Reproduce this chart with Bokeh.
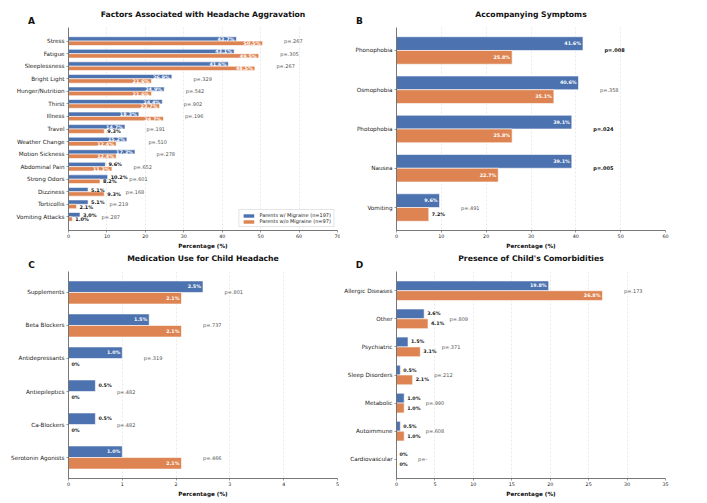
from bokeh.plotting import figure
from bokeh.layouts import column, row
from bokeh.models import ColumnDataSource, Range1d, FixedTicker, Label
from bokeh.embed import file_html
from bokeh.resources import INLINE
from bokeh.core.properties import value

BLUE = "#4C72B0"
ORANGE = "#DD8452"
FONT = "DejaVu Sans"

# Panel A: factors associated with headache aggravation
aggr_factors = ["Stress", "Fatigue", "Sleeplessness", "Bright Light", "Hunger/Nutrition",
                "Thirst", "Illness", "Travel", "Weather Change", "Motion Sickness",
                "Abdominal Pain", "Strong Odors", "Dizziness", "Torticollis", "Vomiting Attacks"]
aggr_mig = [43.7, 43.1, 41.6, 26.9, 24.9, 24.4, 18.3, 14.7, 15.2, 17.3, 9.6, 10.2, 5.1, 5.1, 3.0]
aggr_nomig = [50.5, 49.5, 48.5, 21.6, 21.6, 23.7, 24.7, 9.3, 12.4, 12.4, 11.3, 8.2, 9.3, 2.1, 1.0]
aggr_p = [".267", ".305", ".267", ".329", ".542", ".902", ".196", ".191", ".510", ".278",
          ".652", ".601", ".168", ".219", ".287"]

# Panel B: accompanying symptoms
symp_names = ["Phonophobia", "Osmophobia", "Photophobia", "Nausea", "Vomiting"]
symp_mig = [41.6, 40.6, 39.1, 39.1, 9.6]
symp_nomig = [25.8, 35.1, 25.8, 22.7, 7.2]
symp_p = [".008", ".358", ".024", ".005", ".491"]

# Panel C: medication use
med_names = ["Supplements", "Beta Blockers", "Antidepressants", "Antiepileptics",
             "Ca-Blockers", "Serotonin Agonists"]
med_mig = [2.5, 1.5, 1.0, 0.5, 0.5, 1.0]
med_nomig = [2.1, 2.1, 0.0, 0.0, 0.0, 2.1]
med_p = [".801", ".737", ".319", ".482", ".482", ".466"]

# Panel D: comorbidities
comor_names = ["Allergic Diseases", "Other", "Psychiatric", "Sleep Disorders", "Metabolic",
               "Autoimmune", "Cardiovascular"]
comor_mig = [19.8, 3.6, 1.5, 0.5, 1.0, 0.5, 0.0]
comor_nomig = [26.8, 4.1, 3.1, 2.1, 1.0, 1.0, 0.0]
comor_p = [".173", ".809", ".371", ".212", ".990", ".608", "-"]

LEG_MIG = "Parents w/ Migraine (n=197)"
LEG_NOMIG = "Parents w/o Migraine (n=97)"


def fmt_pct(v):
    return "0%" if v == 0 else f"{v:.1f}%"


def make_panel(letter, title, cats, mig, nomig, pvals, xmax, xstep,
               width, height, bl, br, bt, bb, legend=False):
    n = len(cats)
    bar_h = 0.35
    pad = 0.05 * ((n - 1) + 2 * bar_h)
    y_top = -bar_h - pad
    y_bot = n - 1 + bar_h + pad
    p = figure(width=width, height=height, output_backend="svg", toolbar_location=None,
               title=None, x_range=Range1d(0, xmax), y_range=Range1d(y_bot, y_top),
               min_border_left=bl, min_border_right=br,
               min_border_top=bt, min_border_bottom=bb)
    p.outline_line_color = None

    idx = list(range(n))
    src_a = ColumnDataSource(dict(y=[i - bar_h / 2 for i in idx], v=mig))
    src_b = ColumnDataSource(dict(y=[i + bar_h / 2 for i in idx], v=nomig))
    kw_a = dict(legend_label=LEG_MIG) if legend else {}
    kw_b = dict(legend_label=LEG_NOMIG) if legend else {}
    p.hbar(y="y", right="v", left=0, height=bar_h, source=src_a,
           fill_color=BLUE, line_color="white", line_width=0.6, **kw_a)
    p.hbar(y="y", right="v", left=0, height=bar_h, source=src_b,
           fill_color=ORANGE, line_color="white", line_width=0.6, **kw_b)

    # value labels: inside long bars, outside short ones
    thr = 0.15 * xmax
    ins = dict(x=[], y=[], t=[])
    outs = dict(x=[], y=[], t=[])
    for vals, off in ((mig, -bar_h / 2), (nomig, bar_h / 2)):
        for i, v in enumerate(vals):
            d = ins if v > thr else outs
            d["x"].append(v)
            d["y"].append(i + off)
            d["t"].append(fmt_pct(v))
    lab_size = "4.9px" if n > 10 else "4.8px"
    p.text(x="x", y="y", text="t", source=ColumnDataSource(ins), text_align="right",
           text_baseline="middle", x_offset=-2, text_color="white",
           text_font=value(FONT), text_font_style="bold", text_font_size=lab_size)
    p.text(x="x", y="y", text="t", source=ColumnDataSource(outs), text_align="left",
           text_baseline="middle", x_offset=3, text_color="#111111",
           text_font=value(FONT), text_font_style="bold", text_font_size=lab_size)

    # p-values to the right of each pair of bars
    sig = dict(x=[], y=[], t=[])
    nsig = dict(x=[], y=[], t=[])
    for i, pv in enumerate(pvals):
        x = max(mig[i], nomig[i]) + 0.08 * xmax
        is_sig = pv != "-" and float(pv) < 0.05
        d = sig if is_sig else nsig
        d["x"].append(x)
        d["y"].append(i)
        d["t"].append("p=" + pv)
    p.text(x="x", y="y", text="t", source=ColumnDataSource(sig), text_align="left",
           text_baseline="middle", text_color="#111111",
           text_font=value(FONT), text_font_style="bold", text_font_size="5px")
    p.text(x="x", y="y", text="t", source=ColumnDataSource(nsig), text_align="left",
           text_baseline="middle", text_color="#555555",
           text_font=value(FONT), text_font_size="5px")

    # panel title (nearest the frame) and panel letter, both in the top border
    frame_w = width - bl - br
    p.add_layout(Label(x=frame_w / 2, y=13, x_units="screen", y_units="screen",
                       text=title, text_font=FONT, text_font_size="7.7px",
                       text_font_style="bold", text_align="center",
                       text_baseline="middle", text_color="#111111"), "above")
    p.add_layout(Label(x=-37, y=-2, x_units="screen", y_units="screen",
                       text=letter, text_font=FONT, text_font_size="9px",
                       text_font_style="bold", text_align="center",
                       text_baseline="middle", text_color="#111111"), "above")

    # axes
    p.xaxis.ticker = FixedTicker(ticks=list(range(0, xmax + 1, xstep)))
    p.yaxis.ticker = FixedTicker(ticks=idx)
    p.yaxis.major_label_overrides = {i: c for i, c in enumerate(cats)}
    for ax in (p.xaxis[0], p.yaxis[0]):
        ax.axis_line_color = "#555555"
        ax.axis_line_width = 0.8
        ax.major_tick_line_color = "#555555"
        ax.major_tick_line_width = 0.6
        ax.major_tick_in = 0
        ax.major_tick_out = 2
        ax.minor_tick_line_color = None
        ax.major_label_text_font = FONT
        ax.major_label_text_color = "#222222"
        ax.major_label_standoff = 2
    p.xaxis.major_label_text_font_size = "4.8px"
    p.xaxis.major_label_standoff = 1
    p.yaxis.major_label_text_font_size = "5.7px"
    p.xaxis.axis_label = "Percentage (%)"
    p.xaxis.axis_label_text_font = FONT
    p.xaxis.axis_label_text_font_size = "5.7px"
    p.xaxis.axis_label_text_font_style = "bold"
    p.xaxis.axis_label_text_color = "#111111"
    p.xaxis.axis_label_standoff = 2

    p.xgrid.grid_line_color = "#cccccc"
    p.xgrid.grid_line_dash = "2 2"
    p.xgrid.grid_line_alpha = 0.7
    p.xgrid.grid_line_width = 0.6
    p.ygrid.grid_line_color = None

    if legend:
        lg = p.legend[0]
        lg.location = "bottom_right"
        lg.label_text_font = FONT
        lg.label_text_font_size = "5px"
        lg.label_text_color = "#222222"
        lg.label_height = 6
        lg.glyph_height = 5
        lg.glyph_width = 14
        lg.label_standoff = 4
        lg.spacing = 0
        lg.padding = 2
        lg.margin = 3
        lg.border_line_color = "#cccccc"
        lg.border_line_width = 0.6
        lg.background_fill_alpha = 0.9
    return p


pa = make_panel("A", "Factors Associated with Headache Aggravation", aggr_factors,
                aggr_mig, aggr_nomig, aggr_p, 70, 10, 340, 251, 68, 3, 27, 18, legend=True)
pb = make_panel("B", "Accompanying Symptoms", symp_names, symp_mig, symp_nomig, symp_p,
                60, 10, 367, 251, 56, 42, 27, 18)
pc = make_panel("C", "Medication Use for Child Headache", med_names, med_mig, med_nomig,
                med_p, 5, 1, 340, 252, 68, 3, 20, 25)
pd = make_panel("D", "Presence of Child's Comorbidities", comor_names, comor_mig,
                comor_nomig, comor_p, 35, 5, 367, 252, 56, 42, 20, 25)

layout = column(row(pa, pb, spacing=0), row(pc, pd, spacing=0), spacing=0)
open("out.html", "w").write(file_html(layout, INLINE))
